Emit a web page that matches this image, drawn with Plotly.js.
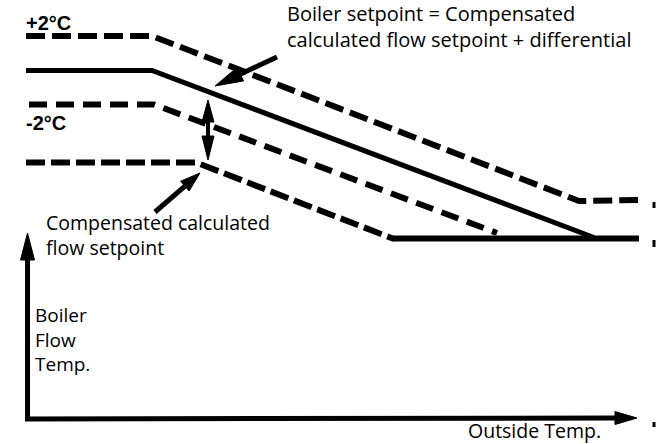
<!DOCTYPE html>
<html>
<head>
<meta charset="utf-8">
<script src="https://cdn.plot.ly/plotly-3.0.1.min.js"></script>
<style>html,body{margin:0;padding:0;background:#fff;}#chart{width:656px;height:444px;}</style>
</head>
<body>
<div id="chart"></div>
<script>
// Upper band (+2°C) dashed line
const upperX = [26, 152, 579, 638];
const upperY = [36, 36, 201, 200];
// Boiler setpoint (solid) line
const setpointX = [26, 152, 594];
const setpointY = [70.5, 70.5, 237.5];
// Minimum flow line (solid, flat)
const minFlowX = [393, 639];
const minFlowY = [238.5, 238.5];
// Lower band (-2°C) dashed line
const lowerX = [29, 154, 497];
const lowerY = [104.5, 104.5, 233];
// Compensated calculated flow setpoint (dashed)
const compX = [26, 196, 394];
const compY = [162.5, 162.5, 239];

// Arrows: [tailX, tailY, tipX, tipY]
const yAxisArrow = [27.5, 421, 27.5, 233];
const xAxisArrow = [25, 419, 637, 418];
const note1Arrow = [277, 57, 215, 86];
const note2Arrow = [155, 212, 200, 173];
const diffArrowUp = [208, 130, 208, 100];
const diffArrowDown = [208, 129, 208, 160];

// Scan edge marks at right border
const edgeMarkX = [654, 654, null, 654, 654, null, 654, 654];
const edgeMarkY = [202, 208, null, 240, 247, null, 422, 427];

// Text labels
const noteTop = ['Boiler setpoint = Compensated', 'calculated flow setpoint + differential'];
const noteBottom = ['Compensated calculated', 'flow setpoint'];
const yLabel = ['Boiler', 'Flow', 'Temp.'];
const xLabel = 'Outside Temp.';
const plusLabel = '+2°C';
const minusLabel = '-2°C';

const INK = '#000000';
const traces = [];

function lineTrace(x, y, width, dash) {
  return {x: x, y: y, type: 'scatter', mode: 'lines', hoverinfo: 'skip',
    line: {color: INK, width: width, dash: dash || 'solid'}};
}

traces.push(lineTrace(upperX, upperY, 6, '19px,7px'));
traces.push(lineTrace(setpointX, setpointY, 5));
traces.push(lineTrace(minFlowX, minFlowY, 6));
traces.push(lineTrace(lowerX, lowerY, 6, '18px,9px'));
traces.push(lineTrace(compX, compY, 6, '19px,6px'));
traces.push(lineTrace(edgeMarkX, edgeMarkY, 3));

function arrow(a, headLen, headW, shaftW) {
  const [x0, y0, x1, y1] = a;
  const dx = x1 - x0, dy = y1 - y0;
  const L = Math.hypot(dx, dy);
  const ux = dx / L, uy = dy / L;
  const bx = x1 - ux * headLen, by = y1 - uy * headLen;
  const px = -uy, py = ux;
  traces.push(lineTrace([x0, bx + ux * 2], [y0, by + uy * 2], shaftW));
  traces.push({
    x: [x1, bx + px * headW / 2, bx - px * headW / 2, x1],
    y: [y1, by + py * headW / 2, by - py * headW / 2, y1],
    type: 'scatter', mode: 'lines', fill: 'toself', fillcolor: INK,
    line: {color: INK, width: 1}, hoverinfo: 'skip'
  });
}

arrow(yAxisArrow, 27, 14, 5);
arrow(xAxisArrow, 22, 13, 5);
arrow(note1Arrow, 28, 15, 5);
arrow(note2Arrow, 20, 13, 5);
arrow(diffArrowUp, 22, 12, 4);
arrow(diffArrowDown, 24, 12, 4);

const annotations = [];
// block of lines: first and last baselines given; plotly spaces lines 1.3em
function block(lines, x, firstBaseline, size) {
  const font = {family: 'Open Sans', size: size, color: INK};
  const n = lines.length;
  const lastBaseline = firstBaseline + (n - 1) * 1.3 * size;
  const centre = (firstBaseline + lastBaseline) / 2 - 0.388 * size;
  annotations.push({text: lines.join('<br>'), x: x, y: centre, xref: 'x', yref: 'y',
    xanchor: 'left', yanchor: 'middle', align: 'left', showarrow: false, font: font,
    borderpad: 0});
}
block(noteTop, 286, 21, 20);
block(noteBottom, 45, 229.5, 19.5);
block(yLabel, 34, 322.5, 19);
block([xLabel], 467, 438, 19.5);

const boldFont = {family: 'Liberation Sans', size: 20, color: INK, weight: 'bold'};
annotations.push({text: '<b>' + plusLabel + '</b>', x: 25, y: 22.5, xref: 'x', yref: 'y',
  xanchor: 'left', yanchor: 'middle', showarrow: false, font: boldFont, borderpad: 0});
annotations.push({text: '<b>' + minusLabel + '</b>', x: 25, y: 122.5, xref: 'x', yref: 'y',
  xanchor: 'left', yanchor: 'middle', showarrow: false, font: boldFont, borderpad: 0});

const layout = {
  width: 656, height: 444,
  margin: {l: 0, r: 0, t: 0, b: 0, pad: 0},
  paper_bgcolor: '#ffffff', plot_bgcolor: '#ffffff',
  showlegend: false,
  xaxis: {range: [0, 656], visible: false, fixedrange: true},
  yaxis: {range: [444, 0], visible: false, fixedrange: true},
  annotations: annotations
};

Plotly.newPlot('chart', traces, layout, {staticPlot: true, displayModeBar: false});
</script>
</body>
</html>
